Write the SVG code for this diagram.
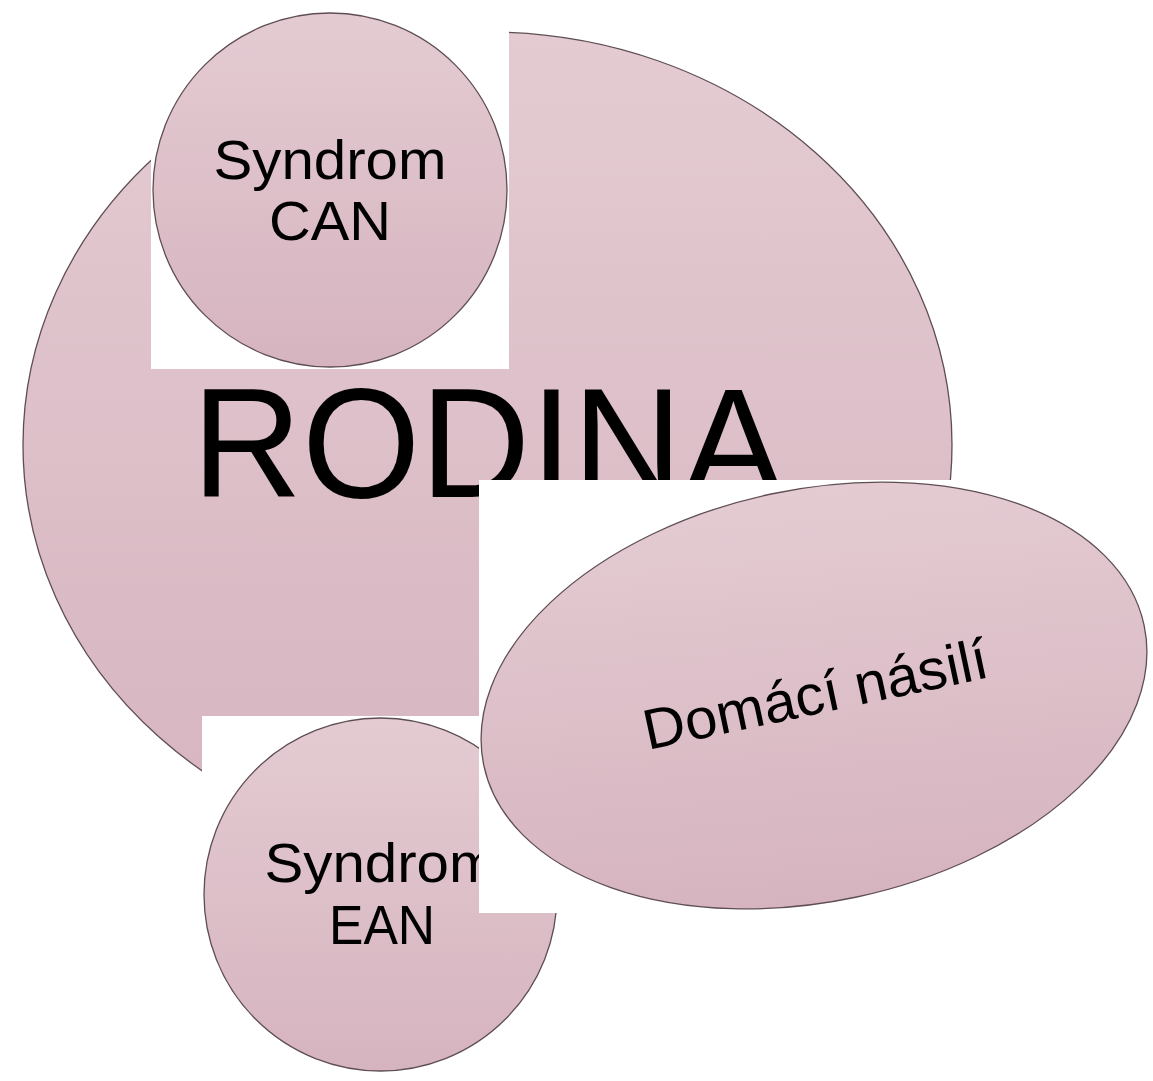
<svg xmlns="http://www.w3.org/2000/svg" width="1153" height="1081" viewBox="0 0 1153 1081">
  <defs>
    <linearGradient id="fillGrad" x1="0" y1="0" x2="0" y2="1">
      <stop offset="0" stop-color="#e4cbd2"/>
      <stop offset="1" stop-color="#d6b4bf"/>
    </linearGradient>
    <linearGradient id="fillGradRot" x1="0" y1="0" x2="0" y2="1" gradientTransform="rotate(12 0.5 0.5)">
      <stop offset="0" stop-color="#e4cbd2"/>
      <stop offset="1" stop-color="#d6b4bf"/>
    </linearGradient>
    <style>
      .shape { fill: url(#fillGrad); stroke: #5e4d53; stroke-width: 1.3; }
      .shape-rot { fill: url(#fillGradRot); stroke: #5e4d53; stroke-width: 1.3; }
      .bg { fill: #ffffff; }
      .lbl { font-family: "Liberation Sans", Arial, sans-serif; fill: #000000; text-anchor: middle; }
    </style>
  </defs>
  <rect width="1153" height="1081" fill="#ffffff"/>
  <g id="connectors"/>
  <g id="node-rodina">
    <ellipse class="shape" cx="487.5" cy="445" rx="464.5" ry="413"/>
    <text class="lbl" x="488" y="497" font-size="156" textLength="592" lengthAdjust="spacingAndGlyphs">RODINA</text>
  </g>
  <g id="node-can">
    <rect class="bg" x="151" y="11" width="358" height="358"/>
    <circle class="shape" cx="330" cy="190" r="177"/>
    <text class="lbl" x="330" y="179" font-size="56" textLength="233" lengthAdjust="spacingAndGlyphs">Syndrom</text>
    <text class="lbl" x="330" y="240" font-size="56" textLength="122" lengthAdjust="spacingAndGlyphs">CAN</text>
  </g>
  <g id="node-ean">
    <rect class="bg" x="202" y="716" width="357" height="357"/>
    <circle class="shape" cx="380.5" cy="894.5" r="176.5"/>
    <text class="lbl" x="381" y="882" font-size="56" textLength="233" lengthAdjust="spacingAndGlyphs">Syndrom</text>
    <text class="lbl" x="382" y="944" font-size="56" textLength="106" lengthAdjust="spacingAndGlyphs">EAN</text>
  </g>
  <g id="node-domaci">
    <rect class="bg" x="479" y="480" width="672" height="433"/>
    <g transform="translate(814 695.5) rotate(-12)">
      <ellipse class="shape-rot" cx="0" cy="0" rx="337.5" ry="206"/>
      <text class="lbl" x="1.6" y="18.7" font-size="57" textLength="351" lengthAdjust="spacingAndGlyphs">Domácí násilí</text>
    </g>
  </g>
</svg>
